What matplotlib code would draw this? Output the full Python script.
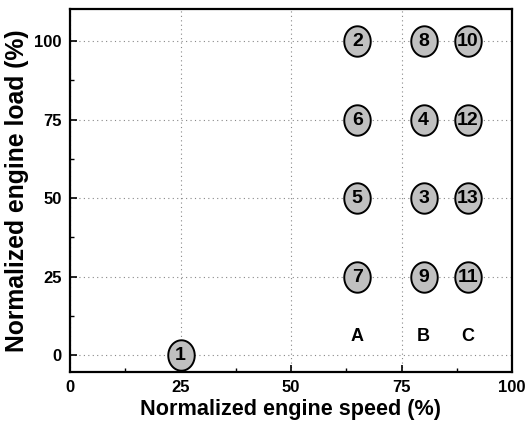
import matplotlib
matplotlib.use("Agg")
import matplotlib.pyplot as plt
from matplotlib.ticker import MultipleLocator
from matplotlib.path import Path
import numpy as np

plt.rcParams['font.family'] = ['Liberation Sans', 'DejaVu Sans']
plt.rcParams['font.weight'] = 'bold'

labels = ['1', '2', '3', '4', '5', '6', '7', '8', '9', '10', '11', '12', '13']
speed = [25, 65, 80, 80, 65, 65, 65, 80, 80, 90, 90, 90, 90]
load = [0, 100, 50, 75, 50, 75, 25, 100, 25, 100, 25, 75, 50]
groups = ['A', 'B', 'C']
group_x = [65, 80, 90]
group_y = 6

# slightly tall ellipse marker
t = np.linspace(0, 2 * np.pi, 73)
verts = np.column_stack([0.87 * np.cos(t), np.sin(t)])
ellipse = Path(verts, closed=True)

fig = plt.figure(figsize=(5.27, 4.29), dpi=100)
ax = fig.add_axes([70/527, 1-372/429, (512-70)/527, (372-9)/429])
ax.set_xlim(0, 100)
ax.set_ylim(-5.4, 110.2)

ax.grid(True, which='major', linestyle=(0, (1, 3)), color='#888888', linewidth=0.8)
ax.set_axisbelow(True)

ax.scatter(speed, load, s=480, marker=ellipse, facecolor='#c0c0c0', edgecolor='black',
           linewidth=1.4, zorder=3)
for lb, xv, yv in zip(labels, speed, load):
    ax.text(xv, yv - 0.3, lb, ha='center', va='center', fontsize=14, fontweight='bold', zorder=4)
for g, gx in zip(groups, group_x):
    ax.text(gx, group_y, g, ha='center', va='center', fontsize=13, fontweight='bold')

ax.xaxis.set_major_locator(MultipleLocator(25))
ax.xaxis.set_minor_locator(MultipleLocator(12.5))
ax.yaxis.set_major_locator(MultipleLocator(25))
ax.yaxis.set_minor_locator(MultipleLocator(12.5))
ax.tick_params(which='major', direction='in', length=5, width=1.2, labelsize=12, pad=6)
ax.tick_params(which='minor', direction='in', length=3, width=1.0)
for lbl in ax.get_xticklabels() + ax.get_yticklabels():
    lbl.set_fontweight('bold')
for s in ax.spines.values():
    s.set_linewidth(1.6)

ax.set_xlabel('Normalized engine speed (%)', fontsize=15.6, fontweight='bold', labelpad=3)
ax.set_ylabel('Normalized engine load (%)', fontsize=17.8, fontweight='bold', labelpad=4)

fig.savefig('out.png', dpi=100)
